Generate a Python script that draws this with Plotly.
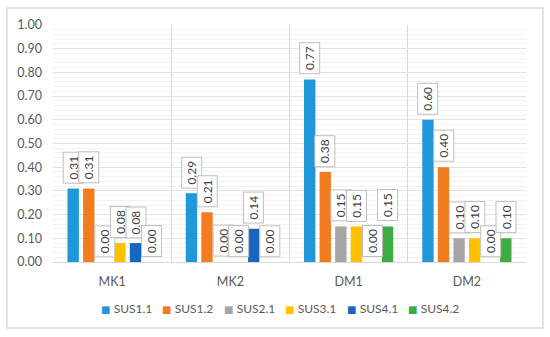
import plotly.graph_objects as go

categories = ["MK1", "MK2", "DM1", "DM2"]
series_names = ["SUS1.1", "SUS1.2", "SUS2.1", "SUS3.1", "SUS4.1", "SUS4.2"]
sus11 = [0.31, 0.29, 0.77, 0.60]
sus12 = [0.31, 0.21, 0.38, 0.40]
sus21 = [0.00, 0.00, 0.15, 0.10]
sus31 = [0.08, 0.00, 0.15, 0.10]
sus41 = [0.08, 0.14, 0.00, 0.00]
sus42 = [0.00, 0.00, 0.15, 0.10]
y_ticks = [0.0, 0.1, 0.2, 0.3, 0.4, 0.5, 0.6, 0.7, 0.8, 0.9, 1.0]

series_values = [sus11, sus12, sus21, sus31, sus41, sus42]
colors = ["#1F97D8", "#F47C20", "#A5A5A5", "#FFC000", "#1766C0", "#3DAA44"]

FONT = "Lato"
W, H = 550, 337
ML, MR, MT, MB = 53, 24, 25, 75
BARGAP = 0.21
GROUPGAP = 0.27

fig = go.Figure()
for name, vals, col in zip(series_names, series_values, colors):
    fig.add_trace(go.Bar(name=name, x=categories, y=vals, marker_color=col,
                         marker_line_width=0, showlegend=False))

pw = W - ML - MR
ph = H - MT - MB
def px_x(p):
    return (p - ML) / pw
def px_y(p):
    return (H - MB - p) / ph

# data labels in boxes
n = len(series_names)
slot = (1 - BARGAP) / n
annotations = []
for j, vals in enumerate(series_values):
    for i, v in enumerate(vals):
        xpos = i - (1 - BARGAP) / 2 + (j + 0.5) * slot
        annotations.append(dict(
            x=xpos, y=v, xref="x", yref="y", text=f"{v:.2f}",
            showarrow=False, textangle=-90, xanchor="center", yanchor="bottom",
            yshift=5, bgcolor="white", bordercolor="#BFBFBF", borderwidth=1,
            borderpad=3, width=24, height=13,
            font=dict(family=FONT, size=12, color="#404040")))

# legend (Excel style: small square right next to the label)
LEG_X0, LEG_PITCH, LEG_Y = 99, 61.4, 308
for j, (name, col) in enumerate(zip(series_names, colors)):
    annotations.append(dict(
        x=px_x(LEG_X0 + j * LEG_PITCH), y=px_y(LEG_Y), xref="paper", yref="paper",
        xanchor="left", yanchor="middle", showarrow=False,
        text=f"<span style='color:{col};font-size:10px;font-family:DejaVu Sans'>■ </span>{name}",
        font=dict(family=FONT, size=12, color="#595959")))

fig.update_layout(
    width=W, height=H,
    margin=dict(l=ML, r=MR, t=MT, b=MB, pad=0),
    paper_bgcolor="white", plot_bgcolor="white",
    barmode="group", bargap=BARGAP, bargroupgap=GROUPGAP,
    font=dict(family=FONT, size=12, color="#595959"),
    showlegend=False,
    annotations=annotations,
    shapes=[dict(type="rect", xref="paper", yref="paper",
                 x0=px_x(7), x1=px_x(543), y0=px_y(328), y1=px_y(8),
                 line=dict(color="#D9D9D9", width=1.5), layer="below")],
)
fig.update_xaxes(type="category", tickson="boundaries", showgrid=True,
                 gridcolor="#D9D9D9", gridwidth=1, ticks="", showline=True,
                 linecolor="#D9D9D9", ticklabelstandoff=8,
                 tickfont=dict(family=FONT, size=12.5, color="#595959"))
fig.update_yaxes(range=[0, 1.0], tickvals=y_ticks, tickformat=".2f",
                 showgrid=True, gridcolor="#E3E3E3", gridwidth=1,
                 zeroline=False, ticks="", ticklabelstandoff=10,
                 minor=dict(dtick=0.02, showgrid=True, gridcolor="#F3F3F3", gridwidth=1),
                 tickfont=dict(family=FONT, size=12.5, color="#595959"))

fig.write_html("out.html", config={"displayModeBar": False},
               post_script="document.body.style.margin='0';")
